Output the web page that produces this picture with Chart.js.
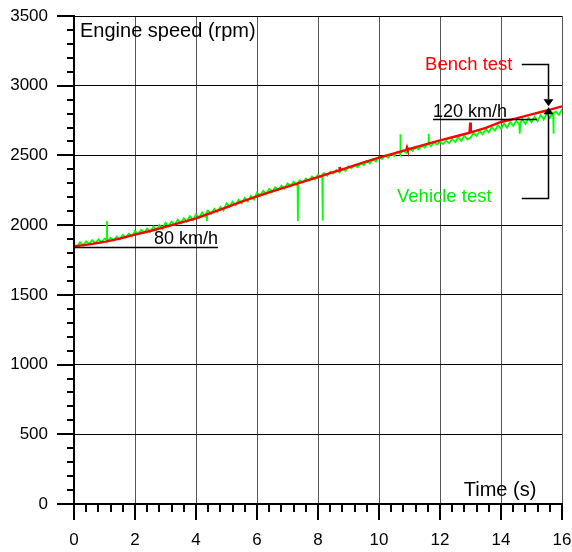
<!DOCTYPE html>
<html>
<head>
<meta charset="utf-8">
<script src="https://cdn.jsdelivr.net/npm/chart.js@4/dist/chart.umd.min.js"></script>
<style>
  html, body { margin: 0; padding: 0; background: #fff; }
  #wrap { width: 572px; height: 552px; }
</style>
</head>
<body>
<div id="wrap"><canvas id="c" width="572" height="552"></canvas></div>
<script>
// Bench test: engine speed (rpm) against time (s)
const benchTime = [0, 0.5, 1, 1.5, 2, 2.5, 3, 3.5, 4, 4.5, 5, 5.5, 6, 6.5, 7, 7.5, 8, 8.5,
  8.69, 8.71, 8.73, 9, 9.5, 10, 10.5, 10.9, 10.92, 10.94, 11, 11.5, 12, 12.5,
  12.97, 12.99, 13.01, 13.5, 14, 14.5, 15, 15.5, 16];
const benchSpeed = [1848, 1862, 1880, 1903, 1932, 1958, 1988, 2018, 2049, 2088, 2128, 2168, 2207, 2242, 2276, 2311, 2345, 2380,
  2393, 2417, 2395, 2415, 2450, 2484, 2515, 2540, 2556, 2542, 2546, 2577, 2608, 2636,
  2663, 2735, 2665, 2697, 2740, 2766, 2795, 2822, 2852];

// Vehicle test: engine speed sampled every 0.1 s from 0 to 16 s
const vehicleStep = 0.1;
const vehicleSpeed = [
  1862, 1846, 1878, 1855, 1884, 1866, 1892, 1870, 1898, 1876,
  1904, 1884, 1910, 1890, 1918, 1900, 1930, 1912, 1940, 1920,
  1958, 1936, 1966, 1944, 1976, 1952, 1990, 1964, 2000, 1974,
  2018, 1992, 2026, 2000, 2040, 2014, 2050, 2024, 2064, 2036,
  2078, 2054, 2092, 2064, 2102, 2080, 2118, 2094, 2130, 2106,
  2156, 2134, 2168, 2144, 2182, 2158, 2196, 2170, 2210, 2184,
  2234, 2210, 2246, 2222, 2260, 2240, 2272, 2252, 2284, 2262,
  2300, 2280, 2312, 2290, 2322, 2306, 2334, 2318, 2348, 2328,
  2362, 2346, 2372, 2354, 2384, 2370, 2396, 2378, 2404, 2388,
  2422, 2408, 2432, 2416, 2446, 2430, 2460, 2442, 2474, 2456,
  2490, 2474, 2500, 2484, 2512, 2496, 2526, 2506, 2536, 2518,
  2550, 2532, 2560, 2542, 2570, 2556, 2584, 2566, 2594, 2578,
  2598, 2582, 2606, 2588, 2618, 2596, 2630, 2604, 2642, 2614,
  2628, 2660, 2640, 2676, 2652, 2688, 2665, 2702, 2678, 2716,
  2692, 2728, 2700, 2740, 2712, 2750, 2722, 2758, 2725, 2768,
  2738, 2778, 2745, 2790, 2758, 2800, 2770, 2805, 2815, 2790,
  2830
];
// Short glitches in the vehicle signal
const glitchTime = [1.07, 1.08, 1.09, 4.35, 4.36, 4.37, 7.33, 7.34, 7.35, 8.14, 8.15, 8.16,
  10.69, 10.70, 10.71, 11.62, 11.63, 11.64, 14.61, 14.62, 14.63, 15.71, 15.72, 15.73];
const glitchSpeed = [1896, 2029, 1898, 2090, 2030, 2094, 2300, 2029, 2302, 2360, 2034, 2364,
  2512, 2651, 2516, 2580, 2656, 2584, 2726, 2656, 2730, 2800, 2656, 2802];

const timeTicks = [0, 2, 4, 6, 8, 10, 12, 14, 16];
const speedTicks = [0, 500, 1000, 1500, 2000, 2500, 3000, 3500];

const benchPoints = benchTime.map((t, i) => ({ x: t, y: benchSpeed[i] }));
const vehiclePoints = vehicleSpeed.map((v, i) => ({ x: Math.round(i * vehicleStep * 100) / 100, y: v }))
  .concat(glitchTime.map((t, i) => ({ x: t, y: glitchSpeed[i] })))
  .sort((a, b) => a.x - b.x);

const FONT = "'Liberation Sans', Arial, Helvetica, sans-serif";

// Axis lines, tick marks and the text/arrow annotations
const decorations = {
  id: 'decorations',
  afterDatasetsDraw(chart) {
    const { ctx, chartArea: a, scales: { x, y } } = chart;
    ctx.save();
    ctx.strokeStyle = '#000';
    ctx.lineWidth = 2;
    ctx.lineCap = 'butt';
    ctx.beginPath();
    // axis lines
    ctx.moveTo(a.left, a.top - 1); ctx.lineTo(a.left, a.bottom);
    ctx.moveTo(a.left, a.bottom); ctx.lineTo(a.right + 1, a.bottom);
    // y ticks every 100, long ones every 500
    for (let v = 0; v <= 3500; v += 100) {
      const py = Math.round(y.getPixelForValue(v));
      const len = v % 500 === 0 ? 17 : 7;
      ctx.moveTo(a.left - len, py); ctx.lineTo(a.left, py);
    }
    // x ticks every 0.4 s, long ones every 2 s
    for (let i = 0; i <= 40; i++) {
      const px = Math.round(x.getPixelForValue(i * 0.4));
      const len = i % 5 === 0 ? 16 : 8;
      ctx.moveTo(px, a.bottom); ctx.lineTo(px, a.bottom + len);
    }
    ctx.stroke();

    // text annotations
    ctx.textBaseline = 'alphabetic';
    ctx.textAlign = 'left';
    ctx.fillStyle = '#000';
    ctx.font = '20px ' + FONT;
    ctx.fillText('Engine speed (rpm)', a.left + 6, a.top + 21);
    ctx.fillText('Time (s)', x.getPixelForValue(12.78), a.bottom - 8);

    ctx.font = '18.5px ' + FONT;
    ctx.fillStyle = '#ff0000';
    ctx.fillText('Bench test', x.getPixelForValue(11.51), y.getPixelForValue(3113));
    ctx.fillStyle = '#00ee00';
    ctx.fillText('Vehicle test', x.getPixelForValue(10.59), y.getPixelForValue(2164));
    ctx.font = '18px ' + FONT;
    ctx.fillStyle = '#000';
    ctx.fillText('120 km/h', x.getPixelForValue(11.77), y.getPixelForValue(2778));
    ctx.fillText('80 km/h', x.getPixelForValue(2.62), y.getPixelForValue(1867));

    // underlines marking the two speeds
    ctx.lineWidth = 1.5;
    ctx.beginPath();
    let uy = Math.round(y.getPixelForValue(2761)) + 0.5;
    ctx.moveTo(x.getPixelForValue(11.77), uy); ctx.lineTo(x.getPixelForValue(15.18), uy);
    uy = Math.round(y.getPixelForValue(1845)) + 0.5;
    ctx.moveTo(x.getPixelForValue(0), uy); ctx.lineTo(x.getPixelForValue(4.72), uy);
    ctx.stroke();

    // bracket with arrows pointing at the two curves
    const bx0 = x.getPixelForValue(14.68), bx = Math.round(x.getPixelForValue(15.53)) + 0.5;
    const yTop = Math.round(y.getPixelForValue(3156)) + 0.5;
    const yBot = Math.round(y.getPixelForValue(2197)) + 0.5;
    const tipA = y.getPixelForValue(2852), tipB = y.getPixelForValue(2846);
    const head = 7, half = 5;
    ctx.lineWidth = 1.5;
    ctx.beginPath();
    ctx.moveTo(bx0, yTop); ctx.lineTo(bx, yTop); ctx.lineTo(bx, tipA - head);
    ctx.moveTo(bx0, yBot); ctx.lineTo(bx, yBot); ctx.lineTo(bx, tipB + head);
    ctx.stroke();
    ctx.fillStyle = '#000';
    ctx.beginPath();
    ctx.moveTo(bx - half, tipA - head); ctx.lineTo(bx + half, tipA - head); ctx.lineTo(bx, tipA); ctx.closePath();
    ctx.moveTo(bx - half, tipB + head); ctx.lineTo(bx + half, tipB + head); ctx.lineTo(bx, tipB); ctx.closePath();
    ctx.fill();
    ctx.restore();
  }
};

function noOverflow(s) {
  s.paddingLeft = 0; s.paddingRight = 0; s.paddingTop = 0; s.paddingBottom = 0;
}

new Chart(document.getElementById('c'), {
  type: 'line',
  data: {
    datasets: [
      { label: 'Bench test', data: benchPoints, borderColor: '#ff0000', borderWidth: 2.4,
        pointRadius: 0, tension: 0, fill: false },
      { label: 'Vehicle test', data: vehiclePoints, borderColor: '#00ff00', borderWidth: 1.8,
        pointRadius: 0, tension: 0, fill: false }
    ]
  },
  options: {
    responsive: false,
    animation: false,
    events: [],
    layout: { padding: { top: 16, right: 10, left: 0, bottom: 0 } },
    plugins: { legend: { display: false }, tooltip: { enabled: false } },
    scales: {
      x: {
        type: 'linear', min: 0, max: 16,
        afterFit(s) { s.height = 48; noOverflow(s); },
        afterBuildTicks(s) { s.ticks = timeTicks.map(v => ({ value: v })); },
        ticks: { color: '#000', font: { family: FONT, size: 17 }, padding: 26, maxRotation: 0,
          callback: v => String(v) },
        grid: { color: '#555', lineWidth: 1, drawTicks: false },
        border: { display: false }
      },
      y: {
        min: 0, max: 3500,
        afterFit(s) { s.width = 74; noOverflow(s); },
        afterBuildTicks(s) { s.ticks = speedTicks.map(v => ({ value: v })); },
        ticks: { color: '#000', font: { family: FONT, size: 17 }, padding: 26,
          callback: v => String(v) },
        grid: { color: '#000', lineWidth: 1, drawTicks: false },
        border: { display: false }
      }
    }
  },
  plugins: [decorations]
});
</script>
</body>
</html>
